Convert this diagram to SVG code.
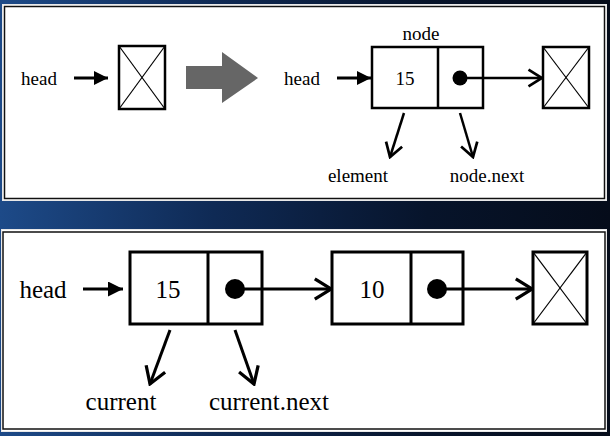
<svg xmlns="http://www.w3.org/2000/svg" width="610" height="436" viewBox="0 0 610 436">
<defs>
<linearGradient id="bg" x1="0" y1="0" x2="1" y2="0">
<stop offset="0" stop-color="#1d4a88"/>
<stop offset="0.35" stop-color="#0f2a55"/>
<stop offset="0.7" stop-color="#07142b"/>
<stop offset="1" stop-color="#050c1a"/>
</linearGradient>
<marker id="fill" viewBox="0 0 10 10" refX="10" refY="5" markerWidth="5" markerHeight="5" orient="auto" markerUnits="strokeWidth">
<path d="M0,0 L10,5 L0,10 Z" fill="#000"/>
</marker>
<marker id="open" viewBox="0 0 10 12" refX="9" refY="6" markerWidth="6.8" markerHeight="8.1" orient="auto" markerUnits="strokeWidth">
<path d="M1,1 L9,6 L1,11" fill="none" stroke="#000" stroke-width="1.6"/>
</marker>
</defs>
<style>
text{font-family:"Liberation Serif","Times New Roman",serif;fill:#000}
.t1{font-size:19px}
.t2{font-size:25px}
.box{fill:none;stroke:#000}
.cross{stroke:#000;stroke-width:1.2}
.ln{stroke:#000;fill:none}
</style>
<rect width="610" height="436" fill="url(#bg)"/>
<!-- panels -->
<rect x="2.5" y="4.5" width="604" height="196" fill="#fff" stroke="#e8e8e8" stroke-width="1"/>
<rect x="4.5" y="6.5" width="600" height="192" fill="#fff" stroke="#111" stroke-width="1.5"/>
<rect x="1.5" y="229.5" width="605" height="202" fill="#fff" stroke="#e8e8e8" stroke-width="1"/>
<rect x="3" y="232" width="602" height="197" fill="#fff" stroke="#111" stroke-width="1.5"/>

<!-- top panel nodes -->
<g id="head1"><text class="t1" x="39" y="85" text-anchor="middle">head</text></g>
<g id="null1">
<rect class="box" x="119" y="46" width="46" height="63" stroke-width="2.5"/>
<line class="cross" x1="119" y1="46" x2="165" y2="109"/>
<line class="cross" x1="165" y1="46" x2="119" y2="109"/>
</g>
<g id="bigarrow"><path d="M186,66 L222,66 L222,52 L258,78 L222,103 L222,89 L186,89 Z" fill="#666"/></g>
<g id="head2"><text class="t1" x="302" y="85" text-anchor="middle">head</text></g>
<g id="nodeLabel"><text class="t1" x="421" y="40" text-anchor="middle">node</text></g>
<g id="node">
<rect class="box" x="372" y="47" width="111" height="61" stroke-width="2.5"/>
<line class="ln" x1="438" y1="47" x2="438" y2="108" stroke-width="2.5"/>
<text class="t1" x="405" y="85" text-anchor="middle">15</text>
<circle cx="460" cy="78" r="7.5" fill="#000"/>
</g>
<g id="null2">
<rect class="box" x="543" y="47" width="46" height="61" stroke-width="2.5"/>
<line class="cross" x1="543" y1="47" x2="589" y2="108"/>
<line class="cross" x1="589" y1="47" x2="543" y2="108"/>
</g>
<g id="element"><text class="t1" x="358" y="182" text-anchor="middle">element</text></g>
<g id="nodenext"><text class="t1" x="487" y="182" text-anchor="middle">node.next</text></g>

<!-- bottom panel nodes -->
<g id="head3"><text class="t2" x="43" y="298" text-anchor="middle">head</text></g>
<g id="n1">
<rect class="box" x="130" y="252" width="132" height="72" stroke-width="3"/>
<line class="ln" x1="208" y1="252" x2="208" y2="324" stroke-width="3"/>
<text class="t2" x="168" y="298" text-anchor="middle">15</text>
<circle cx="235" cy="289" r="10" fill="#000"/>
</g>
<g id="n2">
<rect class="box" x="332" y="252" width="131" height="72" stroke-width="3"/>
<line class="ln" x1="411" y1="252" x2="411" y2="324" stroke-width="3"/>
<text class="t2" x="372" y="298" text-anchor="middle">10</text>
<circle cx="437" cy="289" r="10" fill="#000"/>
</g>
<g id="null3">
<rect class="box" x="533" y="252" width="54" height="72" stroke-width="3"/>
<line class="cross" x1="533" y1="252" x2="587" y2="324" stroke-width="1.5"/>
<line class="cross" x1="587" y1="252" x2="533" y2="324" stroke-width="1.5"/>
</g>
<g id="current"><text class="t2" x="121" y="410" text-anchor="middle">current</text></g>
<g id="currentnext"><text class="t2" x="269" y="410" text-anchor="middle">current.next</text></g>

<!-- connectors -->
<g id="connectors">
<line class="ln" x1="74" y1="78" x2="108" y2="78" stroke-width="2.8" marker-end="url(#fill)"/>
<line class="ln" x1="337" y1="78" x2="371" y2="78" stroke-width="2.8" marker-end="url(#fill)"/>
<line class="ln" x1="460" y1="78" x2="542" y2="78" stroke-width="2.5" marker-end="url(#open)"/>
<line class="ln" x1="404" y1="113" x2="390" y2="157" stroke-width="2.5" marker-end="url(#open)"/>
<line class="ln" x1="460" y1="113" x2="473" y2="157" stroke-width="2.5" marker-end="url(#open)"/>
<line class="ln" x1="83" y1="289" x2="123" y2="289" stroke-width="3" marker-end="url(#fill)"/>
<line class="ln" x1="235" y1="289" x2="331" y2="289" stroke-width="3" marker-end="url(#open)"/>
<line class="ln" x1="437" y1="289" x2="532" y2="289" stroke-width="3" marker-end="url(#open)"/>
<line class="ln" x1="170" y1="330" x2="150" y2="384" stroke-width="3" marker-end="url(#open)"/>
<line class="ln" x1="235" y1="330" x2="254" y2="384" stroke-width="3" marker-end="url(#open)"/>
</g>
</svg>
